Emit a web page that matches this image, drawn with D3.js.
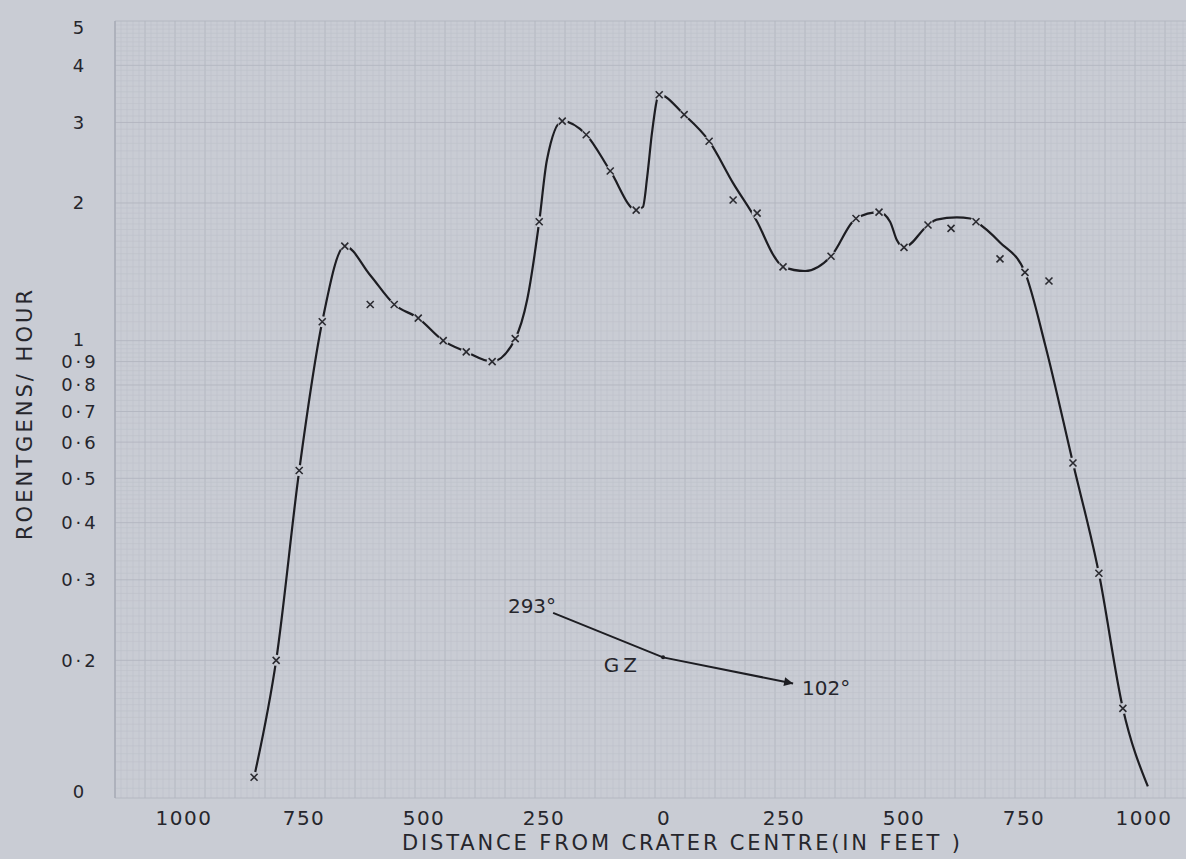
<!DOCTYPE html>
<html>
<head>
<meta charset="utf-8">
<script src="https://cdn.jsdelivr.net/npm/d3@7"></script>
<style>
  body { margin: 0; background: #c9ccd4; }
  svg { display: block; }
  text { font-family: "DejaVu Sans", sans-serif; fill: #26262c; }
</style>
</head>
<body>
<svg id="chart"></svg>
<script>
// plotted crosses: distance from crater centre (ft, 293 deg side negative) and dose rate (r/hr)
const markerDist = [-854, -808, -760, -712, -665, -612, -562, -512, -460, -412, -358, -310,
  -260, -212, -162, -112, -58, -10, 42, 94, 144, 194, 248, 348, 400, 448, 500, 550, 598,
  650, 700, 752, 802, 852, 906, 956];
const markerRate = [0.111, 0.200, 0.52, 1.10, 1.61, 1.20, 1.20, 1.12, 1.00, 0.945, 0.90, 1.01,
  1.82, 3.02, 2.82, 2.35, 1.93, 3.45, 3.12, 2.73, 2.03, 1.90, 1.45, 1.53, 1.85, 1.91, 1.60,
  1.79, 1.76, 1.82, 1.51, 1.41, 1.35, 0.54, 0.31, 0.157];

// the hand drawn curve through the crosses
const curveDist = [-854, -808, -760, -712, -665, -612, -562, -512, -460, -412, -358, -310, -285,
  -260, -244, -212, -162, -112, -58, -44, -35, -25, -10, 42, 94, 144, 194, 231, 248, 294,
  348, 400, 448, 471, 485, 500, 550, 568, 610, 638, 650, 700, 752, 794, 852, 906, 956, 1008];
const curveRate = [0.111, 0.200, 0.52, 1.10, 1.61, 1.39, 1.20, 1.12, 1.00, 0.945, 0.90, 1.01, 1.23,
  1.82, 2.48, 3.02, 2.82, 2.35, 1.93, 1.96, 2.28, 2.85, 3.45, 3.12, 2.73, 2.21, 1.82, 1.52,
  1.45, 1.42, 1.53, 1.85, 1.91, 1.82, 1.66, 1.60, 1.79, 1.84, 1.86, 1.85, 1.82, 1.64, 1.41,
  0.98, 0.54, 0.31, 0.157, 0.106];

const xTicks = [-1000, -750, -500, -250, 0, 250, 500, 750, 1000];
const xTickLabels = ["1000", "750", "500", "250", "0", "250", "500", "750", "1000"];
const yTicks = [0.1, 0.2, 0.3, 0.4, 0.5, 0.6, 0.7, 0.8, 0.9, 1, 2, 3, 4, 5];
const yTickLabels = ["0", "0·2", "0·3", "0·4", "0·5", "0·6", "0·7", "0·8", "0·9", "1", "2", "3", "4", "5"];

// bearing arrow: 293 deg end, ground zero, 102 deg end
const arrowDist = [-231, -2, 269];
const arrowRate = [0.254, 0.203, 0.178];

const width = 1186, height = 859;

const svg = d3.select("#chart")
  .attr("width", width)
  .attr("height", height);

const x = d3.scaleLinear().domain([-1000, 1000]).range([184, 1144]);
const y = d3.scaleLog().domain([0.1, 5]).range([798, 21]);

// graph paper
const paperLeft = x.invert(115);
const grid = svg.append("g").attr("class", "grid");

const vLines = d3.range(paperLeft, 1110, 12.5);
grid.selectAll("line.v")
  .data(vLines)
  .enter().append("line")
  .attr("class", "v")
  .attr("x1", d => x(d)).attr("x2", d => x(d))
  .attr("y1", y(5)).attr("y2", y(0.1))
  .attr("stroke", (d, i) => i % 5 == 0 ? "#b2b5c0" : "#bec1ca")
  .attr("stroke-width", (d, i) => i % 5 == 0 ? 0.9 : 0.6);

const hLines = [].concat(
  d3.range(0.1, 0.2, 0.005), d3.range(0.2, 0.5, 0.01), d3.range(0.5, 1, 0.02),
  d3.range(1, 2, 0.05), d3.range(2, 5.001, 0.1)
).map(v => Math.round(v * 1000) / 1000);
const isMajor = v => v < 1 ? Math.abs(v * 10 - Math.round(v * 10)) < 1e-6 : Math.abs(v - Math.round(v)) < 1e-6;

grid.selectAll("line.h")
  .data(hLines)
  .enter().append("line")
  .attr("class", "h")
  .attr("x1", x(paperLeft)).attr("x2", width)
  .attr("y1", d => y(d)).attr("y2", d => y(d))
  .attr("stroke", d => isMajor(d) ? "#b2b5c0" : "#bec1ca")
  .attr("stroke-width", d => isMajor(d) ? 0.9 : 0.6);

grid.append("line")
  .attr("x1", x(paperLeft)).attr("x2", x(paperLeft))
  .attr("y1", y(5)).attr("y2", y(0.1))
  .attr("stroke", "#a3a7b2").attr("stroke-width", 1.2);

// curve, broken where it meets a cross
const points = markerDist.map((d, i) => [d, markerRate[i]]);
const mask = svg.append("defs").append("mask").attr("id", "gaps");
mask.append("rect").attr("width", width).attr("height", height).attr("fill", "white");
mask.selectAll("circle")
  .data(points)
  .enter().append("circle")
  .attr("cx", d => x(d[0])).attr("cy", d => y(d[1]))
  .attr("r", 5.5).attr("fill", "black");

const line = d3.line()
  .x(d => x(d[0]))
  .y(d => y(d[1]))
  .curve(d3.curveMonotoneX);

svg.append("path")
  .datum(curveDist.map((d, i) => [d, curveRate[i]]))
  .attr("d", line)
  .attr("fill", "none")
  .attr("stroke", "#1d1d22")
  .attr("stroke-width", 2.2)
  .attr("mask", "url(#gaps)");

svg.append("g").selectAll("path")
  .data(points)
  .enter().append("path")
  .attr("transform", d => "translate(" + x(d[0]) + "," + y(d[1]) + ")")
  .attr("d", "M-3.5,-3.5L3.5,3.5M-3.5,3.5L3.5,-3.5")
  .attr("stroke", "#2a2a30")
  .attr("stroke-width", 1.6);

// axis labels
svg.append("g").selectAll("text")
  .data(xTicks)
  .enter().append("text")
  .attr("x", d => x(d))
  .attr("y", 825)
  .attr("text-anchor", "middle")
  .style("font-size", "20px")
  .style("letter-spacing", "1.5px")
  .text((d, i) => xTickLabels[i]);

svg.append("g").selectAll("text")
  .data(yTicks)
  .enter().append("text")
  .attr("x", 80)
  .attr("y", d => y(d) + (d == 5 ? 7 : d == 0.1 ? -6 : d == 1 ? -1 : 0))
  .attr("dy", "0.36em")
  .attr("text-anchor", "middle")
  .style("font-size", "18px")
  .style("letter-spacing", "3px")
  .text((d, i) => yTickLabels[i]);

svg.append("text")
  .attr("x", 402)
  .attr("y", 850)
  .attr("textLength", 558)
  .attr("lengthAdjust", "spacing")
  .style("font-size", "21px")
  .text("DISTANCE FROM CRATER CENTRE(IN FEET )");

svg.append("text")
  .attr("transform", "translate(32,415) rotate(-90)")
  .attr("text-anchor", "middle")
  .attr("textLength", 250)
  .attr("lengthAdjust", "spacing")
  .style("font-size", "21px")
  .text("ROENTGENS/ HOUR");

// bearing arrow
svg.append("defs").append("marker")
  .attr("id", "head")
  .attr("viewBox", "0 0 10 10")
  .attr("refX", 10).attr("refY", 5)
  .attr("markerWidth", 14).attr("markerHeight", 9)
  .attr("markerUnits", "userSpaceOnUse")
  .attr("orient", "auto")
  .append("path")
  .attr("d", "M0,0L10,5L0,10z")
  .attr("fill", "#1d1d22");

const arrow = arrowDist.map((d, i) => [x(d), y(arrowRate[i])]);
svg.append("path")
  .attr("d", d3.line()(arrow))
  .attr("fill", "none")
  .attr("stroke", "#1d1d22")
  .attr("stroke-width", 2)
  .attr("marker-end", "url(#head)");

svg.append("circle")
  .attr("cx", arrow[1][0]).attr("cy", arrow[1][1])
  .attr("r", 2).attr("fill", "#1d1d22");

svg.append("text")
  .attr("x", arrow[0][0] + 3).attr("y", arrow[0][1])
  .attr("text-anchor", "end")
  .style("font-size", "20px")
  .text("293°");

svg.append("text")
  .attr("x", arrow[1][0] - 22).attr("y", arrow[1][1] + 15)
  .attr("text-anchor", "end")
  .style("font-size", "20px")
  .style("letter-spacing", "4px")
  .text("GZ");

svg.append("text")
  .attr("x", arrow[2][0] + 9).attr("y", arrow[2][1] + 12)
  .style("font-size", "20px")
  .text("102°");
</script>
</body>
</html>
